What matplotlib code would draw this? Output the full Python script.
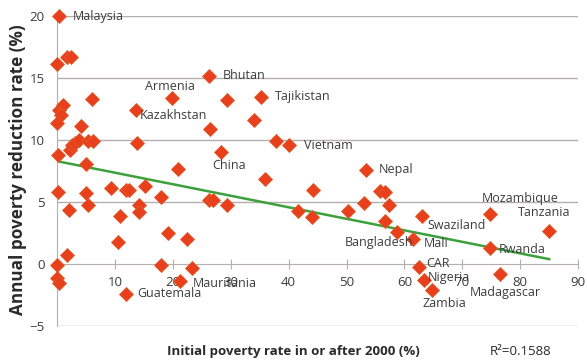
import numpy as np
import matplotlib
matplotlib.use("Agg")
import matplotlib.pyplot as plt

plt.rcParams['font.family'] = ['Open Sans', 'DejaVu Sans']

# initial poverty rate (%) / annual poverty reduction rate (%)
poverty = [0.3, 0.05, 1.8, 2.5, 6.1, 19.8, 13.6, 0.4, 1.1, 0.7, 0.0, 4.1, 13.8, 0.2,
           2.2, 2.6, 3.2, 3.8, 5.3, 6.3, 5.1, 20.9, 0.2, 2.1, 5.1, 5.4, 9.4, 11.9,
           12.5, 15.2, 17.9, 14.2, 14.2, 10.9, 10.6, 19.2, 22.4, 1.8, 0.0, 17.9,
           0.0, 0.4, 21.2, 23.3, 11.9, 26.3, 29.3, 35.3, 34.0, 26.5, 37.8, 40.1,
           28.4, 35.9, 44.2, 41.6, 44.0, 26.2, 27.0, 29.4, 53.4, 55.7, 56.6, 57.4,
           53.1, 50.2, 56.7, 58.7, 61.4, 63.0, 62.5, 63.3, 64.8, 74.8, 84.9, 74.8,
           76.5]
reduction = [20.0, 16.1, 16.7, 16.7, 13.3, 13.4, 12.4, 12.4, 12.8, 12.0, 11.4, 11.1,
             9.8, 8.8, 9.2, 9.6, 9.8, 10.0, 9.9, 9.9, 8.1, 7.7, 5.8, 4.4, 5.7, 4.8,
             6.1, 6.0, 6.0, 6.3, 5.4, 4.8, 4.2, 3.9, 1.8, 2.5, 2.0, 0.7, -0.1, -0.1,
             -1.1, -1.5, -1.4, -0.3, -2.4, 15.2, 13.2, 13.5, 11.6, 10.9, 9.9, 9.6,
             9.0, 6.9, 6.0, 4.3, 3.8, 5.2, 5.2, 4.8, 7.6, 5.9, 5.8, 4.8, 4.9, 4.3,
             3.5, 2.6, 2.0, 3.9, -0.2, -1.3, -2.1, 4.0, 2.7, 1.3, -0.8]
country = ['Malaysia', '', '', '', '', 'Armenia', 'Kazakhstan', '', '', '', '', '',
           '', '', '', '', '', '', '', '', '', '', '', '', '', '', '', '', '', '',
           '', '', '', '', '', '', '', '', '', '', '', '', 'Mauritania', '',
           'Guatemala', 'Bhutan', '', 'Tajikistan', '', '', '', 'Vietnam', 'China',
           '', '', '', '', '', '', '', 'Nepal', '', '', '', '', '', '', 'Bangladesh',
           'Mali', 'Swaziland', 'CAR', 'Nigeria', 'Zambia', 'Mozambique', 'Tanzania',
           'Rwanda', 'Madagascar']

# linear trend
trend_x = [0, 85]
trend_y = [8.3, 0.4]
r2_text = 'R²=0.1588'

# label offsets in pixels (dx right, dy down)
offsets = {
    'Malaysia': (14, 0), 'Bhutan': (13, 0), 'Armenia': (-27, -11),
    'Kazakhstan': (4, 5), 'Tajikistan': (14, 0), 'Vietnam': (15, 0),
    'China': (-9, 13), 'Nepal': (13, 0), 'Mozambique': (-8, -16),
    'Tanzania': (-31, -18), 'Swaziland': (6, 10), 'Bangladesh': (-52, 11),
    'Mali': (11, 4), 'CAR': (7, -3), 'Nigeria': (4, -3), 'Zambia': (-10, 13),
    'Madagascar': (-30, 18), 'Rwanda': (9, 2), 'Guatemala': (11, 0),
    'Mauritania': (13, 2),
}

fig = plt.figure(figsize=(5.87, 3.64), dpi=100)
ax = fig.add_axes([0.097, 0.104, 0.888, 0.852])

text_col = '#3c3c3c'
grid_col = '#b4aeae'

ax.set_xlim(0, 90)
ax.set_ylim(-5, 20)
ax.set_yticks([-5, 0, 5, 10, 15, 20])
ax.set_xticks(range(0, 100, 10))
ax.set_xticklabels(['0', '10', '20', '30', '40', '50', '60', '70', '80', '90'])
ax.set_axisbelow(True)
for g in [-5, 5, 10, 15, 20]:
    ax.axhline(g, color=grid_col, lw=1.0, zorder=0)

for s in ['top', 'right']:
    ax.spines[s].set_visible(False)
ax.spines['bottom'].set_position(('data', 0))
ax.spines['bottom'].set_color(grid_col)
ax.spines['left'].set_color(grid_col)
ax.tick_params(axis='x', direction='inout', length=7, color=grid_col,
               labelsize=9.5, labelcolor=text_col, pad=5)
ax.tick_params(axis='y', length=0, labelsize=9.5, labelcolor=text_col, pad=9)

ax.plot(trend_x, trend_y, color='#3ca03c', lw=1.8, zorder=2)
ax.plot(poverty, reduction, 'D', color='#e8401c', markeredgecolor='#e05a2a',
        markersize=7.5, markeredgewidth=0.6, zorder=3, clip_on=False)

for px, py, name in zip(poverty, reduction, country):
    if name:
        dx, dy = offsets[name]
        ax.annotate(name, (px, py), xytext=(dx * 0.72, -dy * 0.72),
                    textcoords='offset points', ha='left', va='center',
                    fontsize=9, color=text_col, zorder=4)

fig.text(0.031, 0.533, 'Annual poverty reduction rate (%)', rotation=90,
         ha='center', va='center', fontsize=12.3, fontweight='bold', color='#2a2a2a')
fig.text(0.50, 0.033, 'Initial poverty rate in or after 2000 (%)', ha='center',
         va='center', fontsize=9.5, fontweight='bold', color='#2a2a2a')
fig.text(0.835, 0.033, r2_text, ha='left', va='center', fontsize=9.5,
         color='#2a2a2a')

fig.savefig('out.png', dpi=100)
